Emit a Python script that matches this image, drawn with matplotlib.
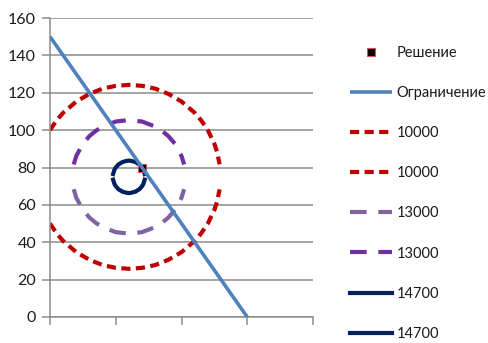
import matplotlib
matplotlib.use("Agg")
import matplotlib.pyplot as plt

plt.rcParams['font.family'] = ['Lato', 'DejaVu Sans']

# Solution point
sol_x = [70]
sol_y = [80]

# Constraint line
con_x = [0, 150]
con_y = [150, 0]

# Level curve 10000 (lower and upper halves)
red_x = [0, 5, 10, 20, 30, 40, 50, 60, 70, 80, 90, 100, 110, 115, 120, 125, 127, 129]
red_lo = [50, 44.8, 40.7, 34.7, 30.6, 27.8, 26.3, 25.8, 26.3, 27.8, 30.6, 34.7, 40.7, 44.8, 50, 57.3, 61.6, 68.3]
red_hi = [100, 105.2, 109.3, 115.3, 119.4, 122.2, 123.7, 124.2, 123.7, 122.2, 119.4, 115.3, 109.3, 105.2, 100, 92.7, 88.4, 81.7]

# Level curve 13000
pur_x = [18, 20, 25, 30, 35, 40, 50, 60, 70, 80, 85, 90, 95, 100, 102]
pur_lo = [68.4, 63.8, 57.3, 53.2, 50.3, 48.1, 45.4, 44.6, 45.4, 48.1, 50.3, 53.2, 57.3, 63.8, 68.4]
pur_hi = [81.6, 86.2, 92.7, 96.8, 99.7, 101.9, 104.6, 105.4, 104.6, 101.9, 99.7, 96.8, 92.7, 86.2, 81.6]

# Level curve 14700
nav_x = [48, 49, 50, 52, 55, 58, 60, 62, 65, 68, 70, 71, 72]
nav_lo = [73.5, 71.2, 70, 68.4, 67.1, 66.5, 66.3, 66.5, 67.1, 68.4, 70, 71.2, 73.5]
nav_hi = [76.5, 78.8, 80, 81.6, 82.9, 83.5, 83.7, 83.5, 82.9, 81.6, 80, 78.8, 76.5]

labels = ['Решение', 'Ограничение', '10000', '10000', '13000', '13000', '14700', '14700']
y_ticks = [0, 20, 40, 60, 80, 100, 120, 140, 160]
x_ticks = [0, 50, 100, 150, 200]

fig = plt.figure(figsize=(4.88, 3.43), dpi=100)
ax = fig.add_axes([50/488, 1 - 317/343, 263/488, 299/343])

red = '#C00000'
lw = 3.0
h_sol, = ax.plot(sol_x, sol_y, linestyle='none', marker='s', markersize=5.5,
                 markerfacecolor='black', markeredgecolor='#D9534F', markeredgewidth=0.8, zorder=3)
h_con, = ax.plot(con_x, con_y, color='#4F81BD', lw=2.6, zorder=4, solid_capstyle='butt')
h_r1, = ax.plot(red_x, red_lo, color=red, lw=lw, dashes=(2.2, 1.3), zorder=2)
h_r2, = ax.plot(red_x, red_hi, color=red, lw=lw, dashes=(2.2, 1.3), zorder=2)
h_p1, = ax.plot(pur_x, pur_lo, color='#8064A2', lw=lw, dashes=(4, 2.8), zorder=2)
h_p2, = ax.plot(pur_x, pur_hi, color='#7030A0', lw=lw, dashes=(4, 2.8), zorder=2)
h_n1, = ax.plot(nav_x, nav_lo, color='#002060', lw=lw, zorder=2)
h_n2, = ax.plot(nav_x, nav_hi, color='#002060', lw=lw, zorder=2)

ax.set_xlim(x_ticks[0], x_ticks[-1])
ax.set_ylim(y_ticks[0], y_ticks[-1])
ax.set_yticks(y_ticks)
ax.set_yticklabels([str(v) for v in y_ticks])
ax.set_xticks(x_ticks)
ax.set_xticklabels([])
ax.yaxis.grid(True, color='#8C8C8C', lw=1.1)
ax.set_axisbelow(True)
for s in ['top', 'right']:
    ax.spines[s].set_visible(False)
for s in ['left', 'bottom']:
    ax.spines[s].set_color('#8C8C8C')
    ax.spines[s].set_linewidth(1.1)
ax.tick_params(axis='both', direction='out', length=6, width=1.1, color='#8C8C8C',
               labelsize=11.5, labelcolor='#1a1a1a', pad=4)

leg = fig.legend([h_sol, h_con, h_r1, h_r2, h_p1, h_p2, h_n1, h_n2], labels,
                 loc='upper left', bbox_to_anchor=(350/488, 1 - 46/343),
                 frameon=False, fontsize=10.5, labelspacing=1.79, handlelength=2.9,
                 handletextpad=0.3, borderaxespad=0, borderpad=0)
for t in leg.get_texts():
    t.set_color('#1a1a1a')

fig.savefig('out.png', dpi=100)
